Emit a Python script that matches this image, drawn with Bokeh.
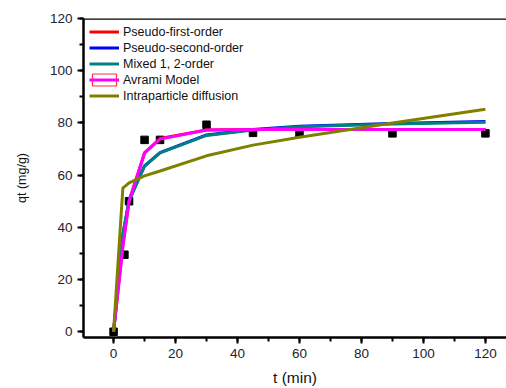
from bokeh.plotting import figure
from bokeh.models import (ColumnDataSource, Legend, LegendItem, Span,
                          Range1d, SingleIntervalTicker)
from bokeh.embed import file_html
from bokeh.resources import INLINE

# experimental data
t_exp = [0, 3.5, 5, 10, 15, 30, 45, 60, 90, 120]
q_exp = [0, 29.5, 50, 73.5, 73.5, 79.3, 76.2, 76, 76, 76]

# model curves
t_model = [0, 3, 5, 10, 15, 30, 45, 60, 90, 120]
q_pfo = [0, 33, 50, 68.5, 74, 77.3, 77.5, 77.5, 77.5, 77.5]
q_pso = [0, 37, 50.5, 63.5, 68.6, 75.4, 77.5, 78.7, 79.8, 80.5]
q_mixed = [0, 37.5, 50, 63.5, 68.5, 75.2, 77.3, 78.5, 79.6, 80.3]
q_avrami = [0, 32.5, 50, 68.5, 73.8, 77.3, 77.5, 77.5, 77.5, 77.5]
q_ipd = [0, 55, 57, 59.7, 61.6, 67.4, 71.5, 74.5, 80, 85.2]

labels = ["Pseudo-first-order", "Pseudo-second-order", "Mixed 1, 2-order",
          "Avrami Model", "Intraparticle diffusion"]
colors = ["#ff0000", "#0000ff", "#008080", "#ff00ff", "#808000"]

FONT = "Liberation Sans"

p = figure(width=506, height=388, output_backend="svg", toolbar_location=None,
           x_range=Range1d(-9.7, 126.8), y_range=Range1d(-2.2, 120),
           min_border_left=83, min_border_right=0, min_border_top=18,
           min_border_bottom=49)
p.outline_line_color = None
p.grid.visible = False
p.background_fill_color = "white"
p.border_fill_color = "white"

p.scatter(t_exp, q_exp, marker="square", size=7.5, color="black")

src = ColumnDataSource(dict(t=t_model, pfo=q_pfo, pso=q_pso, mixed=q_mixed,
                            avrami=q_avrami, ipd=q_ipd))
r_pfo = p.line("t", "pfo", source=src, line_color=colors[0], line_width=3)
r_pso = p.line("t", "pso", source=src, line_color=colors[1], line_width=3)
r_mix = p.line("t", "mixed", source=src, line_color=colors[2], line_width=3)
r_avr = p.line("t", "avrami", source=src, line_color=colors[3], line_width=3)
r_ipd = p.line("t", "ipd", source=src, line_color=colors[4], line_width=3)
# legend-only symbol (outlined box) for the Avrami entry
r_box = p.rect("t", "avrami", source=src, width=1, height=1, fill_color=None,
               line_color="#ff3333", line_width=1.2, visible=False)

legend = Legend(items=[
    LegendItem(label=labels[0], renderers=[r_pfo]),
    LegendItem(label=labels[1], renderers=[r_pso]),
    LegendItem(label=labels[2], renderers=[r_mix]),
    LegendItem(label=labels[3], renderers=[r_box, r_avr]),
    LegendItem(label=labels[4], renderers=[r_ipd]),
], location="top_left", margin=6, padding=0, spacing=1,
    glyph_width=30, glyph_height=15, label_height=15, label_standoff=4,
    label_text_font=FONT, label_text_font_size="12.5px",
    label_text_color="#111111", border_line_color=None,
    background_fill_alpha=0)
p.add_layout(legend, "center")

for ax in (p.xaxis[0], p.yaxis[0]):
    ax.axis_line_width = 2.5
    ax.major_tick_line_width = 2
    ax.minor_tick_line_width = 2
    ax.major_tick_in = 0
    ax.major_tick_out = 6
    ax.minor_tick_in = 0
    ax.minor_tick_out = 4
    ax.major_label_text_font = FONT
    ax.major_label_text_font_size = "13.5px"
    ax.major_label_text_color = "#222233"
    ax.major_label_standoff = 5
    ax.axis_label_text_font = FONT
    ax.axis_label_text_font_style = "normal"
    ax.axis_label_text_color = "#111111"
    ax.ticker = SingleIntervalTicker(interval=20, num_minor_ticks=2)

p.xaxis.axis_label = "t (min)"
p.xaxis.axis_label_text_font_size = "15.5px"
p.xaxis.axis_label_standoff = 8
p.yaxis.axis_label = "qt (mg/g)"
p.yaxis.axis_label_text_font_size = "12.5px"
p.yaxis.axis_label_standoff = 18

p.add_layout(Span(location=120, dimension="width", line_color="black",
                  line_width=2.5))

open("out.html", "w").write(file_html(p, INLINE))
